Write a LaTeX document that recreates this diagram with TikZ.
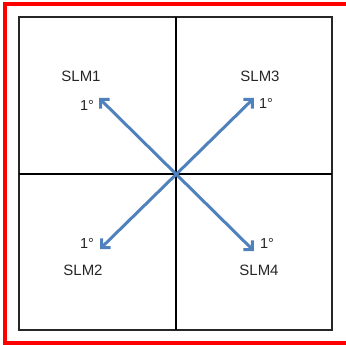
\documentclass[tikz,border=0pt]{standalone}
\usepackage{fontspec}
\setmainfont{Liberation Sans}
\usetikzlibrary{arrows.meta}
\definecolor{arrowblue}{RGB}{79,129,189}
\definecolor{framered}{RGB}{255,0,0}
\tikzset{
  lbl/.style={font=\fontsize{15}{17}\selectfont, text=black!85, inner sep=0pt},
  deg/.style={font=\fontsize{14.5}{16}\selectfont, text=black!85, inner sep=0pt},
  arr/.style={draw=arrowblue, line width=3pt, {Straight Barb[length=6.5pt,width=13pt,line width=3pt]}-{Straight Barb[length=6.5pt,width=13pt,line width=3pt]}},
  grid/.style={draw=black!85, line width=1.2pt},
}
\begin{document}
\begin{tikzpicture}[x=1pt,y=-1pt]
\useasboundingbox (0,0) rectangle (346,345);
\begin{scope}
\clip (0,0) rectangle (346,345);
\draw[framered, line width=4.5pt] (5,4) rectangle (370,343);
\end{scope}
\coordinate (tl) at (19,17);
\coordinate (br) at (332,330);
\draw[grid] (tl) rectangle (br);
\coordinate (top) at (176,17);
\coordinate (bot) at (176,330);
\coordinate (lft) at (19,174);
\coordinate (rgt) at (332,174);
\draw[grid, line width=1.5pt, draw=black] (top) -- (bot);
\draw[grid, line width=1.5pt, draw=black] (lft) -- (rgt);
\coordinate (nw) at (99,98);
\coordinate (se) at (254,251);
\coordinate (ne) at (254,98);
\coordinate (sw) at (100,249);
\draw[arr] (nw) -- (se);
\draw[arr] (ne) -- (sw);
\node[lbl] (s1) at (81,76) {SLM1};
\node[lbl] (s3) at (260,76) {SLM3};
\node[lbl] (s2) at (83,270) {SLM2};
\node[lbl] (s4) at (259,270) {SLM4};
\node[deg] (d1) at (87,105) {1°};
\node[deg] (d3) at (266,103) {1°};
\node[deg] (d2) at (87,243) {1°};
\node[deg] (d4) at (267,243) {1°};
\end{tikzpicture}
\end{document}
